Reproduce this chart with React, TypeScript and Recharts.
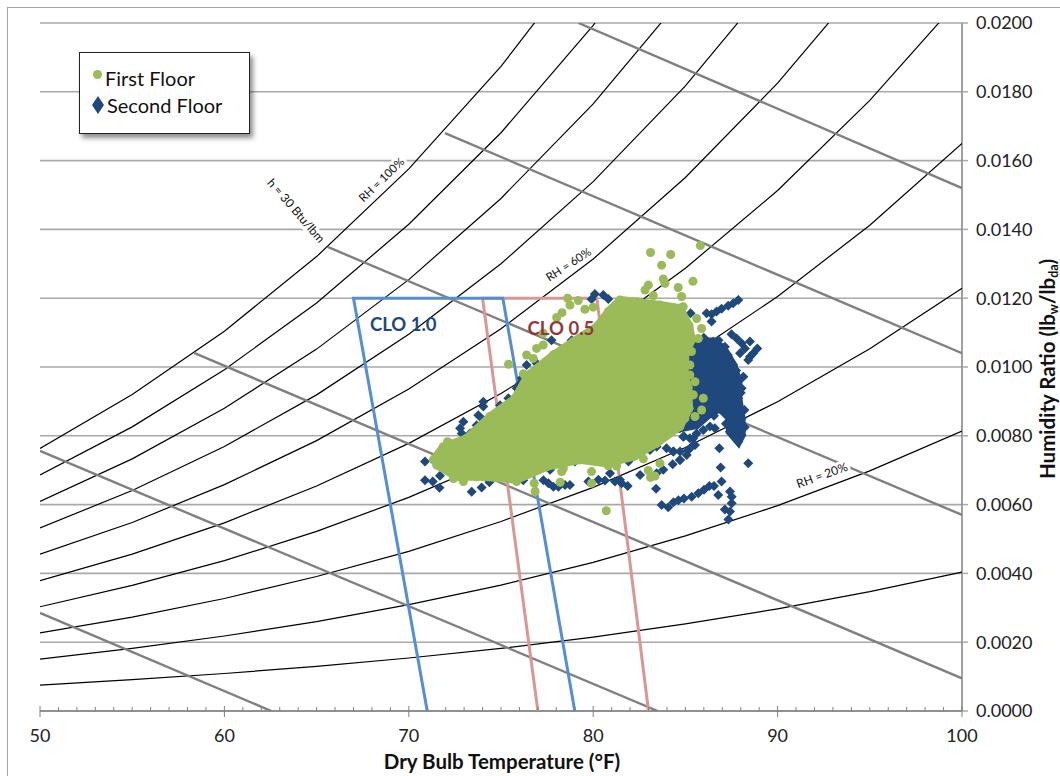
import React from 'react';
import { ScatterChart, Scatter, XAxis, YAxis, ZAxis, CartesianGrid } from 'recharts';

// Axis ticks
const xTicks = Array.from({ length: 51 }, (_, i) => 50 + i);
const yTicks = [0, 0.002, 0.004, 0.006, 0.008, 0.01, 0.012, 0.014, 0.016, 0.018, 0.02];

// Relative humidity curves, humidity ratio read every 5 F starting at 50 F
const rhTemps = [50, 55, 60, 65, 70, 75, 80, 85, 90, 95, 100];
const rh100 = [0.00763, 0.0092, 0.01104, 0.01321, 0.01576, 0.01874, 0.02222];
const rh90 = [0.00686, 0.00826, 0.00992, 0.01186, 0.01415, 0.01681, 0.01993, 0.02356];
const rh80 = [0.00609, 0.00733, 0.0088, 0.01052, 0.01254, 0.0149, 0.01765, 0.02085];
const rh70 = [0.00532, 0.00641, 0.00769, 0.00919, 0.01095, 0.013, 0.01539, 0.01817, 0.0214];
const rh60 = [0.00456, 0.00548, 0.00658, 0.00786, 0.00936, 0.01111, 0.01314, 0.01551, 0.01825, 0.02142];
const rh50 = [0.00379, 0.00456, 0.00547, 0.00654, 0.00778, 0.00923, 0.01091, 0.01287, 0.01513, 0.01775, 0.02076];
const rh40 = [0.00303, 0.00365, 0.00437, 0.00522, 0.00621, 0.00736, 0.0087, 0.01025, 0.01205, 0.01412, 0.0165];
const rh30 = [0.00227, 0.00273, 0.00327, 0.00391, 0.00464, 0.00551, 0.0065, 0.00766, 0.00899, 0.01053, 0.01229];
const rh20 = [0.00151, 0.00182, 0.00218, 0.0026, 0.00309, 0.00366, 0.00432, 0.00509, 0.00597, 0.00698, 0.00814];
const rh10 = [0.00075, 0.00091, 0.00109, 0.0013, 0.00154, 0.00182, 0.00215, 0.00253, 0.00297, 0.00347, 0.00404];
const rhCurves = [rh100, rh90, rh80, rh70, rh60, rh50, rh40, rh30, rh20, rh10];

// Enthalpy lines as [temp, humidity ratio] end points
const enthalpyLines = [
  [[50, 0.00285], [62.55, 0]],
  [[50, 0.00756], [83.5, 0]],
  [[58.35, 0.01041], [100, 0.00095]],
  [[65.6, 0.01349], [100, 0.0057]],
  [[71.96, 0.0168], [100, 0.0104]],
  [[79.2, 0.02], [100, 0.0152]],
];

// Comfort zones
const clo10 = [[71, 0], [67, 0.012], [75.1, 0.012], [79, 0]];
const clo05 = [[77, 0], [74, 0.012], [80.2, 0.012], [83, 0]];

// Outline of the solid part of each cloud, where single readings can't be told apart
const firstFloorMass = [
  [71.33, 0.0073], [71.87, 0.00768], [73.14, 0.00793], [74.4, 0.00856], [75.76, 0.00909], [76.48, 0.00977],
  [77.84, 0.01035], [78.92, 0.01074], [80.19, 0.01117], [80.82, 0.01161], [81.45, 0.01195], [82.35, 0.0119],
  [83.62, 0.0118], [84.7, 0.01171], [85.2, 0.0112], [85.35, 0.0108], [85.0, 0.0104], [84.95, 0.0098],
  [85.15, 0.0094], [85.2, 0.0088], [84.7, 0.00827], [83.44, 0.00778], [82.17, 0.00739], [80.73, 0.0072],
  [79.28, 0.0073], [77.47, 0.0071], [75.85, 0.00672], [74.04, 0.00681], [72.59, 0.00681], [71.51, 0.00715],
];
const secondFloorMass = [
  [85.7, 0.01074], [86.51, 0.01074], [87.05, 0.01054], [87.59, 0.01006], [87.87, 0.00957], [87.87, 0.00909],
  [88.05, 0.00851], [88.05, 0.00802], [87.87, 0.00783], [87.41, 0.00812], [87.41, 0.00851], [86.87, 0.0088],
  [86.33, 0.00865], [85.61, 0.00831], [84.7, 0.00822], [83.08, 0.00948], [84.16, 0.01093],
];

// Readings that stand clear of the solid part
const firstFloor = [
  [85.81, 0.01353], [83.11, 0.01333], [84.2, 0.01327], [83.71, 0.01296], [83.8, 0.01256], [85.41, 0.01249],
  [83.89, 0.01243], [82.99, 0.01238], [82.81, 0.01224], [84.61, 0.01231], [83.26, 0.01207], [84.79, 0.01205],
  [78.61, 0.012], [79.19, 0.01193], [78.74, 0.0118], [79.55, 0.01168], [80.0, 0.01174], [78.31, 0.01158],
  [78.02, 0.01144], [77.29, 0.01098], [77.29, 0.01064], [76.93, 0.01054], [76.39, 0.01035], [76.75, 0.01025],
  [75.41, 0.01008], [76.21, 0.0098], [72.1, 0.00783], [85.97, 0.00909], [85.43, 0.00919], [85.52, 0.00957],
  [85.88, 0.00875], [85.52, 0.00856], [84.97, 0.00851], [84.88, 0.01175], [85.61, 0.01141], [85.88, 0.01112],
  [85.7, 0.01083], [85.33, 0.01045], [85.24, 0.01006], [85.24, 0.00977],
  [82.72, 0.00733], [83.62, 0.0072], [82.99, 0.00699], [83.35, 0.00683], [83.11, 0.00679], [79.91, 0.00696],
  [79.91, 0.00662], [78.21, 0.00665], [80.82, 0.00713], [81.27, 0.00712], [78.29, 0.00696], [76.8, 0.00662],
  [76.85, 0.00638], [80.71, 0.00582], [72.15, 0.0078], [72.42, 0.00676], [72.96, 0.00667], [73.68, 0.00681],
  [74.95, 0.00686], [75.85, 0.00667], [78.38, 0.00705],
];
const secondFloor = [
  // upper right arms
  [87.87, 0.01195], [87.59, 0.01185], [87.32, 0.01178], [86.96, 0.01169], [86.69, 0.01161], [86.42, 0.01153],
  [86.15, 0.01156], [86.42, 0.01132], [85.28, 0.01156], [87.5, 0.01095], [87.78, 0.01083], [88.05, 0.01069],
  [88.23, 0.01054], [87.96, 0.0104], [88.5, 0.01074], [88.9, 0.01054], [88.5, 0.0103], [88.41, 0.0102],
  [88.68, 0.0104], [87.14, 0.01059], [88.14, 0.00972], [88.05, 0.00938],
  // rough edge of the right hand mass
  [86.0, 0.01085], [86.8, 0.01078], [87.3, 0.01035], [87.75, 0.0099], [88.0, 0.00925], [88.2, 0.00875],
  [88.22, 0.00825], [87.2, 0.00835], [86.55, 0.00858],
  // lower right
  [86.42, 0.0087], [85.97, 0.00853], [86.6, 0.00822], [86.33, 0.00827], [85.97, 0.00817], [85.61, 0.00807],
  [85.24, 0.00793], [84.88, 0.00797], [85.43, 0.00773], [85.15, 0.00759], [84.7, 0.0073], [84.34, 0.00754],
  [86.84, 0.00764], [88.41, 0.0072], [86.91, 0.00708], [86.96, 0.00667], [86.78, 0.00628], [87.42, 0.00638],
  [87.51, 0.00623], [87.51, 0.00604], [87.14, 0.00586], [87.42, 0.0058], [87.33, 0.00557],
  // under the first floor cloud
  [82.36, 0.00744], [82.72, 0.00759], [83.08, 0.00759], [83.44, 0.00768], [83.98, 0.00764], [84.35, 0.00754],
  [84.71, 0.00754], [85.16, 0.00759], [85.52, 0.00773], [85.07, 0.00744], [84.71, 0.0073], [84.31, 0.00717],
  [83.8, 0.00701], [83.44, 0.00691], [82.54, 0.00686], [83.41, 0.00646], [83.71, 0.00599], [84.07, 0.00592],
  [84.35, 0.00607], [84.62, 0.00613], [84.92, 0.00618], [85.34, 0.00623], [85.7, 0.00633], [86.01, 0.00643],
  [86.3, 0.00654], [86.55, 0.00654], [81.91, 0.00725], [80.55, 0.00739], [79.01, 0.00725], [78.74, 0.00657],
  [78.47, 0.00657], [79.74, 0.00667], [80.28, 0.00672], [80.64, 0.0067], [80.91, 0.00691], [81.18, 0.00667],
  [81.54, 0.00662], [81.87, 0.00654], [81.45, 0.00672], [84.92, 0.00799], [85.43, 0.00793],
  // lower and upper left edge
  [70.88, 0.00725], [74.04, 0.00899], [74.04, 0.00885], [73.77, 0.0086], [72.96, 0.00841], [72.78, 0.00822],
  [72.87, 0.00807], [73.32, 0.00807], [73.68, 0.00831], [74.04, 0.00846], [74.95, 0.00889], [75.4, 0.00909],
  [75.85, 0.00938], [76.03, 0.00952], [70.88, 0.00671], [71.3, 0.00667], [71.69, 0.00684], [71.66, 0.00649],
  [73.41, 0.00637], [73.95, 0.0065], [74.37, 0.00665], [74.77, 0.00691], [76.21, 0.00671], [77.3, 0.00671],
  [77.57, 0.00662], [77.84, 0.00652], [78.11, 0.00652], [77.66, 0.00701], [72.6, 0.00718],
  [76.12, 0.00967], [76.39, 0.01006], [76.93, 0.01011], [77.74, 0.01078], [78.83, 0.01078], [77.84, 0.01035],
  [80.09, 0.01212], [79.91, 0.01197], [80.55, 0.01209], [80.82, 0.01198], [80.37, 0.01093],
];

// Text placed on the chart at a temperature / humidity ratio
const notes = [
  { x: 68.5, y: 0.01545, text: 'RH = 100%', angle: -44, size: 11.5, color: '#111', halo: true },
  { x: 63.9, y: 0.01455, text: 'h = 30 Btu/lbm', angle: 49, size: 12, color: '#111', halo: true },
  { x: 78.65, y: 0.01299, text: 'RH = 60%', angle: -33, size: 11.5, color: '#111', halo: true },
  { x: 92.4, y: 0.00686, text: 'RH = 20%', angle: -20, size: 12, color: '#111', halo: true },
  { x: 69.7, y: 0.01125, text: 'CLO 1.0', angle: 0, size: 18.5, color: '#1F497D', bold: true },
  { x: 78.25, y: 0.01113, text: 'CLO 0.5', angle: 0, size: 18.5, color: '#953735', bold: true },
];

const FONT = 'Lato, "Open Sans", sans-serif';
const GREEN = '#9BBB59';
const NAVY = '#1F497D';

const toPoints = (pairs: number[][]) => pairs.map(([x, y]) => ({ x, y }));
const noMark = () => null;

const Diamond = (props: any) => {
  const { cx, cy } = props;
  return <path d={`M${cx - 5},${cy}L${cx},${cy - 5}L${cx + 5},${cy}L${cx},${cy + 5}Z`} fill={NAVY} />;
};

const XTick = (props: any) => {
  const { x, y, payload } = props;
  const major = payload.value % 10 === 0;
  return (
    <g>
      <line x1={x} x2={x} y1={major ? y - 5 : y - 4} y2={major ? y + 6 : y} stroke="#808080" strokeWidth={1} />
      {major && (
        <text x={x} y={y + 31} textAnchor="middle" fontFamily={FONT} fontSize={18} fill="#222">
          {payload.value}
        </text>
      )}
    </g>
  );
};

const Note = (props: any) => {
  const { cx, cy, payload } = props;
  return (
    <text
      x={cx}
      y={cy}
      textAnchor="middle"
      dominantBaseline="central"
      transform={`rotate(${payload.angle} ${cx} ${cy})`}
      fontFamily={FONT}
      fontSize={payload.size}
      fontWeight={payload.bold ? 700 : 400}
      fill={payload.color}
      stroke={payload.halo ? '#fff' : 'none'}
      strokeWidth={payload.halo ? 6 : 0}
      paintOrder="stroke"
    >
      {payload.text}
    </text>
  );
};

export default function App() {
  return (
    <div style={{ position: 'absolute', left: 0, top: 0, width: 1060, height: 776, background: '#fff', overflow: 'hidden' }}>
      <div style={{ position: 'absolute', left: 7, top: 7, width: 1100, height: 800, border: '1px solid #a6a6a6' }} />
      <div style={{ position: 'absolute', left: 0, top: 0 }}>
        <ScatterChart width={1060} height={776} margin={{ top: 23, right: 0, bottom: 0, left: 40 }}>
          <CartesianGrid horizontal vertical={false} stroke="#a9a9a9" strokeWidth={1.6} />
          <XAxis
            type="number"
            dataKey="x"
            domain={[50, 100]}
            ticks={xTicks}
            interval={0}
            allowDataOverflow
            height={65}
            tickSize={0}
            tickMargin={0}
            tick={<XTick />}
            axisLine={{ stroke: '#808080', strokeWidth: 1.5 }}
            tickLine={false}
          />
          <YAxis
            type="number"
            dataKey="y"
            orientation="right"
            domain={[0, 0.02]}
            ticks={yTicks}
            interval={0}
            allowDataOverflow
            width={98}
            tickSize={6}
            tickMargin={8}
            tickFormatter={(v: number) => v.toFixed(4)}
            tick={{ fontFamily: FONT, fontSize: 18, fill: '#222' }}
            axisLine={{ stroke: '#808080', strokeWidth: 1.5 }}
            tickLine={{ stroke: '#a9a9a9', strokeWidth: 1.5 }}
          />
          <ZAxis range={[60, 60]} />

          {rhCurves.map((curve, i) => (
            <Scatter
              key={`rh-${i}`}
              data={curve.map((y, j) => ({ x: rhTemps[j], y }))}
              line={{ stroke: '#000', strokeWidth: 1.2 }}
              shape={noMark}
              isAnimationActive={false}
            />
          ))}
          {enthalpyLines.map((line, i) => (
            <Scatter
              key={`h-${i}`}
              data={toPoints(line)}
              line={{ stroke: '#808080', strokeWidth: 2.4 }}
              shape={noMark}
              isAnimationActive={false}
            />
          ))}
          <Scatter data={toPoints(clo05)} line={{ stroke: '#D99694', strokeWidth: 3 }} shape={noMark} isAnimationActive={false} />
          <Scatter data={toPoints(clo10)} line={{ stroke: '#558ED5', strokeWidth: 3 }} shape={noMark} isAnimationActive={false} />

          <Scatter
            name="Second Floor"
            data={toPoints(secondFloorMass)}
            line={{ stroke: NAVY, strokeWidth: 8, fill: NAVY }}
            shape={Diamond}
            isAnimationActive={false}
          />
          <Scatter name="Second Floor" data={toPoints(secondFloor)} shape={Diamond} isAnimationActive={false} />
          <Scatter
            name="First Floor"
            data={toPoints(firstFloorMass)}
            line={{ stroke: GREEN, strokeWidth: 8, fill: GREEN }}
            fill={GREEN}
            shape="circle"
            isAnimationActive={false}
          />
          <Scatter name="First Floor" data={toPoints(firstFloor)} fill={GREEN} shape="circle" isAnimationActive={false} />

          <Scatter data={notes} shape={Note} isAnimationActive={false} />
        </ScatterChart>
      </div>

      {/* y axis title with subscripts */}
      <svg width={1060} height={776} style={{ position: 'absolute', left: 0, top: 0, pointerEvents: 'none' }}>
        <text
          transform="translate(1055 479) rotate(-90)"
          fontFamily={FONT}
          fontSize={20.5}
          fontWeight={700}
          fill="#111"
        >
          Humidity Ratio (lb<tspan fontSize={12.5} dy={3}>w</tspan><tspan dy={-3}>/lb</tspan><tspan fontSize={12.5} dy={3}>da</tspan><tspan dy={-3}>)</tspan>
        </text>
        <text x={502} y={769} textAnchor="middle" fontFamily={FONT} fontSize={20.5} fontWeight={700} fill="#111">
          Dry Bulb Temperature (°F)
        </text>
      </svg>

      {/* legend */}
      <div
        style={{
          position: 'absolute',
          left: 79,
          top: 52,
          width: 169,
          height: 80,
          background: '#fff',
          border: '1px solid #222',
          boxShadow: '3px 4px 5px rgba(0,0,0,0.45)',
          fontFamily: FONT,
          fontSize: 20,
          color: '#111',
        }}
      >
        <span style={{ position: 'absolute', left: 13, top: 17, width: 9, height: 9, borderRadius: '50%', background: GREEN }} />
        <span style={{ position: 'absolute', left: 25, top: 13, lineHeight: '24px' }}>First Floor</span>
        <svg width={14} height={18} style={{ position: 'absolute', left: 11, top: 43 }}>
          <path d="M7,0L13,9L7,18L1,9Z" fill={NAVY} />
        </svg>
        <span style={{ position: 'absolute', left: 27, top: 40, lineHeight: '24px' }}>Second Floor</span>
      </div>
    </div>
  );
}
